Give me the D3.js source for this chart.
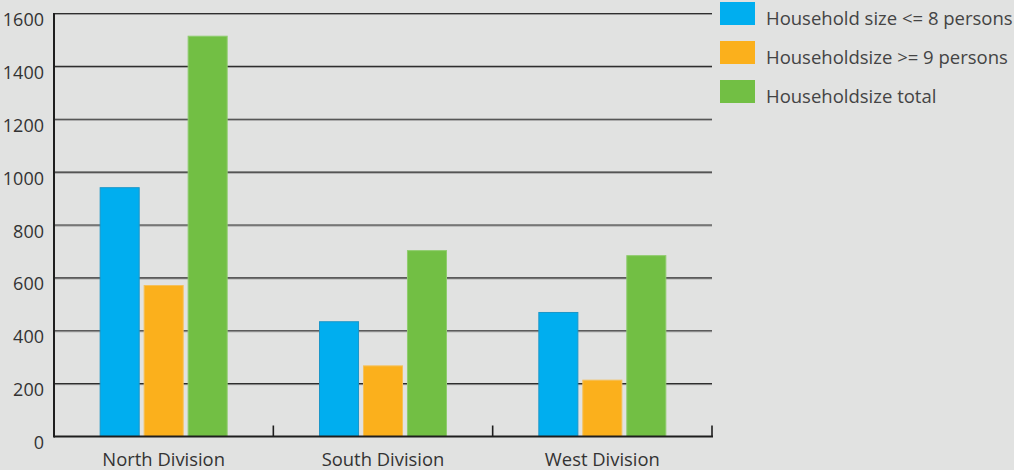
<!DOCTYPE html>
<html>
<head>
<meta charset="utf-8">
<script src="https://cdn.jsdelivr.net/npm/d3@7"></script>
<style>
  html, body { margin: 0; padding: 0; background: #e1e2e1; }
  svg { display: block; }
  text { font-family: "Open Sans", Lato, sans-serif; }
</style>
</head>
<body>
<svg id="chart" width="1014" height="470"></svg>
<script>
// Household counts per division
const divisions = ["North Division", "South Division", "West Division"];
const seriesNames = ["Household size <= 8 persons", "Householdsize >= 9 persons", "Householdsize total"];
const smallHouseholds = [943, 436, 471];
const largeHouseholds = [573, 269, 215];
const totalHouseholds = [1516, 705, 686];
const yTicks = [0, 200, 400, 600, 800, 1000, 1200, 1400, 1600];
const colors = ["#00aeef", "#fbb01c", "#72bf44"];
const edgeColors = ["#1a96c8", "#f5c05a", "#8fcc6e"];

const seriesValues = [smallHouseholds, largeHouseholds, totalHouseholds];

const svg = d3.select("#chart");
const margin = { left: 54, right: 712, top: 13.5, bottom: 436.5 };

const x = d3.scaleBand().domain(divisions).range([margin.left, margin.right]);
const groupWidth = 128;
const x1 = d3.scaleBand().domain(seriesNames)
  .range([x.bandwidth() / 2 - groupWidth / 2, x.bandwidth() / 2 + groupWidth / 2])
  .paddingInner(0.09);
const y = d3.scaleLinear().domain([0, 1600]).range([margin.bottom, margin.top]);

// horizontal grid lines (with a soft shadow under each)
const grid = svg.append("g");
yTicks.filter(t => t > 0).forEach(t => {
  grid.append("line")
    .attr("x1", margin.left).attr("x2", margin.right)
    .attr("y1", y(t) + 1).attr("y2", y(t) + 1)
    .attr("stroke", "#9a9a9a").attr("stroke-width", 1);
  grid.append("line")
    .attr("x1", margin.left).attr("x2", margin.right)
    .attr("y1", y(t)).attr("y2", y(t))
    .attr("stroke", "#2e2e2e").attr("stroke-width", 1.2);
});

// bars
const groups = svg.append("g").selectAll("g")
  .data(divisions)
  .join("g")
  .attr("transform", d => `translate(${x(d)},0)`);

groups.selectAll("rect")
  .data((d, i) => seriesNames.map((s, k) => ({ s, k, v: seriesValues[k][i] })))
  .join("rect")
  .attr("x", d => x1(d.s) + 0.5)
  .attr("width", x1.bandwidth() - 1)
  .attr("y", d => y(d.v) + 0.5)
  .attr("height", d => y(0) - y(d.v) - 0.5)
  .attr("fill", d => colors[d.k])
  .attr("stroke", d => edgeColors[d.k])
  .attr("stroke-width", 1);

// left axis line
svg.append("line")
  .attr("x1", margin.left).attr("x2", margin.left)
  .attr("y1", margin.top - 0.5).attr("y2", margin.bottom + 1)
  .attr("stroke", "#1e1e1e").attr("stroke-width", 2);

// bottom axis line with category separators
svg.append("line")
  .attr("x1", margin.left).attr("x2", margin.right + 1)
  .attr("y1", margin.bottom).attr("y2", margin.bottom)
  .attr("stroke", "#1e1e1e").attr("stroke-width", 2.2);
svg.append("g").selectAll("line")
  .data(divisions)
  .join("line")
  .attr("x1", d => x(d) + x.bandwidth()).attr("x2", d => x(d) + x.bandwidth())
  .attr("y1", margin.bottom).attr("y2", margin.bottom - 11)
  .attr("stroke", "#1e1e1e").attr("stroke-width", 1.6);

// y tick labels, hanging just below their grid lines
svg.append("g").selectAll("text")
  .data(yTicks)
  .join("text")
  .attr("x", 44)
  .attr("y", d => y(d) + 12.5)
  .attr("text-anchor", "end")
  .attr("font-size", 18)
  .attr("fill", "#333")
  .text(d => d);

// x category labels
svg.append("g").selectAll("text")
  .data(divisions)
  .join("text")
  .attr("x", d => x(d) + x.bandwidth() / 2)
  .attr("y", 466)
  .attr("text-anchor", "middle")
  .attr("font-size", 18.4)
  .attr("fill", "#333")
  .text(d => d);

// legend
const legend = svg.append("g").selectAll("g")
  .data(seriesNames)
  .join("g")
  .attr("transform", (d, i) => `translate(720,${2 + i * 39})`);
legend.append("rect")
  .attr("width", 35).attr("height", 23)
  .attr("fill", (d, i) => colors[i]);
legend.append("text")
  .attr("x", 46).attr("y", 23)
  .attr("font-size", 18.5)
  .attr("fill", "#444")
  .text(d => d);
</script>
</body>
</html>
